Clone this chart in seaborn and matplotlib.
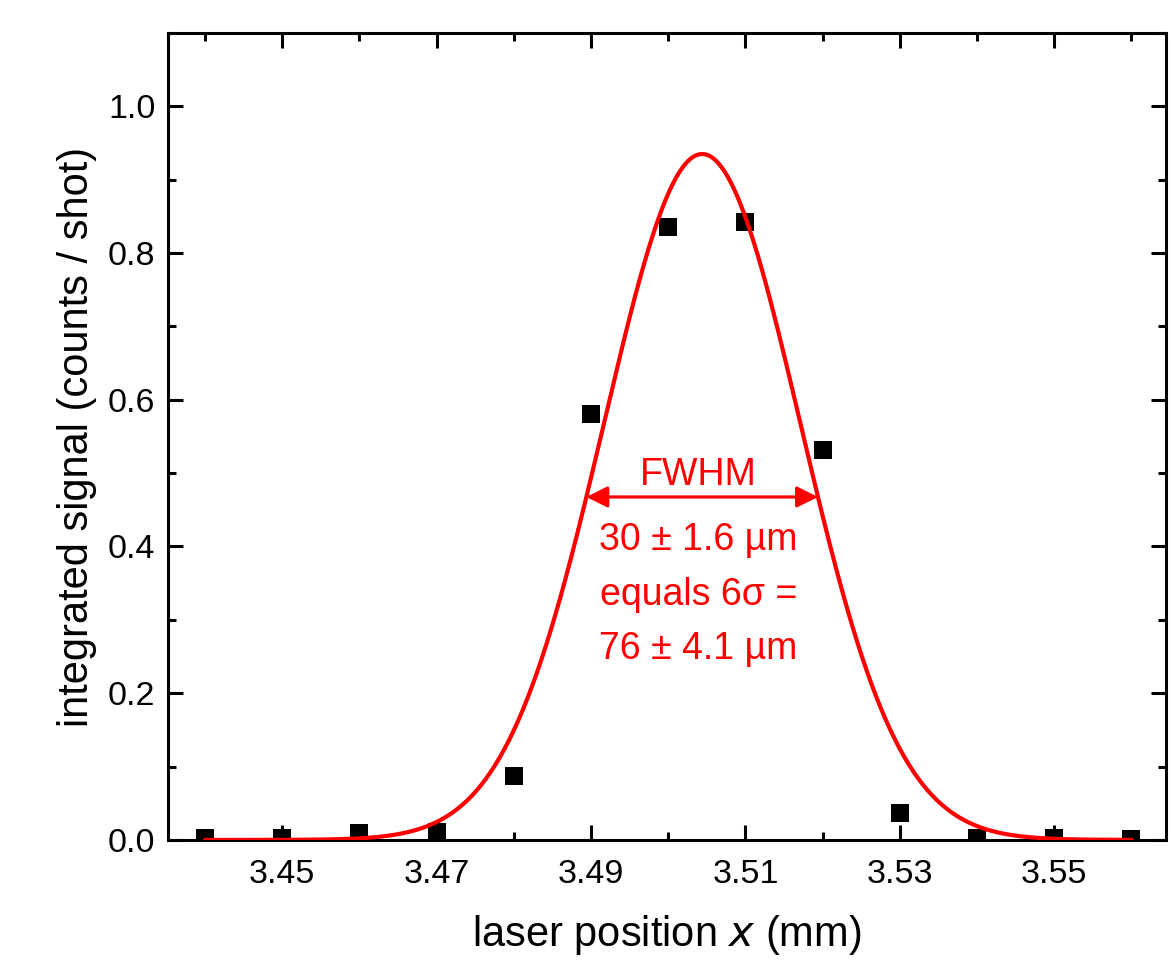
import numpy as np
import pandas as pd
import matplotlib
matplotlib.use("Agg")
import matplotlib.pyplot as plt
from matplotlib.ticker import MultipleLocator
from matplotlib.patches import FancyArrowPatch
import seaborn as sns

# measured points
positions = [3.44, 3.45, 3.46, 3.47, 3.48, 3.49, 3.50, 3.51, 3.52, 3.53, 3.54, 3.55, 3.56]
signal = [0.002, 0.002, 0.010, 0.011, 0.087, 0.581, 0.836, 0.842, 0.531, 0.037, 0.002, 0.002, 0.001]

# gaussian fit parameters
fit_center = 3.5044
fit_amplitude = 0.935
fit_fwhm = 0.0300
fit_range = [3.44, 3.56]

x_ticks = [3.45, 3.47, 3.49, 3.51, 3.53, 3.55]
x_tick_labels = ["3.45", "3.47", "3.49", "3.51", "3.53", "3.55"]
y_ticks = [0.0, 0.2, 0.4, 0.6, 0.8, 1.0]

annot_lines = ["30 ± 1.6 µm", "equals 6σ =", "76 ± 4.1 µm"]

RED = "#ff0000"

sns.set_style("ticks")
plt.rcParams['font.family'] = ['Liberation Sans', 'DejaVu Sans']
plt.rcParams['text.color'] = 'black'
plt.rcParams['axes.labelcolor'] = 'black'
plt.rcParams['xtick.color'] = 'black'
plt.rcParams['ytick.color'] = 'black'

sigma = fit_fwhm / (2 * np.sqrt(2 * np.log(2)))
xf = np.linspace(fit_range[0], fit_range[1], 400)
fit_df = pd.DataFrame({"x": xf, "y": fit_amplitude * np.exp(-0.5 * ((xf - fit_center) / sigma) ** 2)})
pts = pd.DataFrame({"x": positions, "y": signal})

fig = plt.figure(figsize=(11.72, 9.61), dpi=100)
ax = fig.add_axes([0.1433, 0.126, 0.8517, 0.8397])

# squares first, fit curve drawn on top
sns.scatterplot(data=pts, x="x", y="y", ax=ax, marker="s", s=150, color="black",
                edgecolor="black", linewidth=0, zorder=2)
sns.lineplot(data=fit_df, x="x", y="y", ax=ax, color=RED, linewidth=3, zorder=3)

ax.set_xlim(3.4352, 3.5645)
ax.set_ylim(0, 1.1)
ax.set_xticks(x_ticks)
ax.set_xticklabels(x_tick_labels)
ax.xaxis.set_minor_locator(MultipleLocator(0.01))
ax.set_yticks(y_ticks)
ax.set_yticklabels([f"{v:.1f}" for v in y_ticks])
ax.yaxis.set_minor_locator(MultipleLocator(0.1))

ax.tick_params(which="both", direction="in", top=True, right=True, width=2.2, labelsize=24.5)
ax.tick_params(axis="x", pad=14)
ax.tick_params(axis="y", pad=9)
ax.tick_params(which="major", length=11)
ax.tick_params(which="minor", length=6)
for sp in ax.spines.values():
    sp.set_linewidth(2.2)
    sp.set_color("black")

ax.set_xlabel("laser position $\\mathit{x}$ (mm)", fontsize=30, labelpad=16)
ax.set_ylabel("integrated signal (counts / shot)", fontsize=30, labelpad=8)

# FWHM arrow and annotation
half = fit_amplitude / 2
arr = FancyArrowPatch((fit_center - fit_fwhm / 2, half), (fit_center + fit_fwhm / 2, half),
                      arrowstyle="<|-|>", mutation_scale=32, color=RED, linewidth=2.3,
                      shrinkA=0, shrinkB=0, zorder=4)
ax.add_patch(arr)
ax.text(fit_center - 0.0005, 0.498, "FWHM", color=RED, fontsize=27, ha="center", va="center")
for i, line in enumerate(annot_lines):
    ax.text(fit_center - 0.0005, 0.409 - i * 0.0745, line, color=RED, fontsize=27,
            ha="center", va="center")

plt.savefig("out.png", dpi=100)
